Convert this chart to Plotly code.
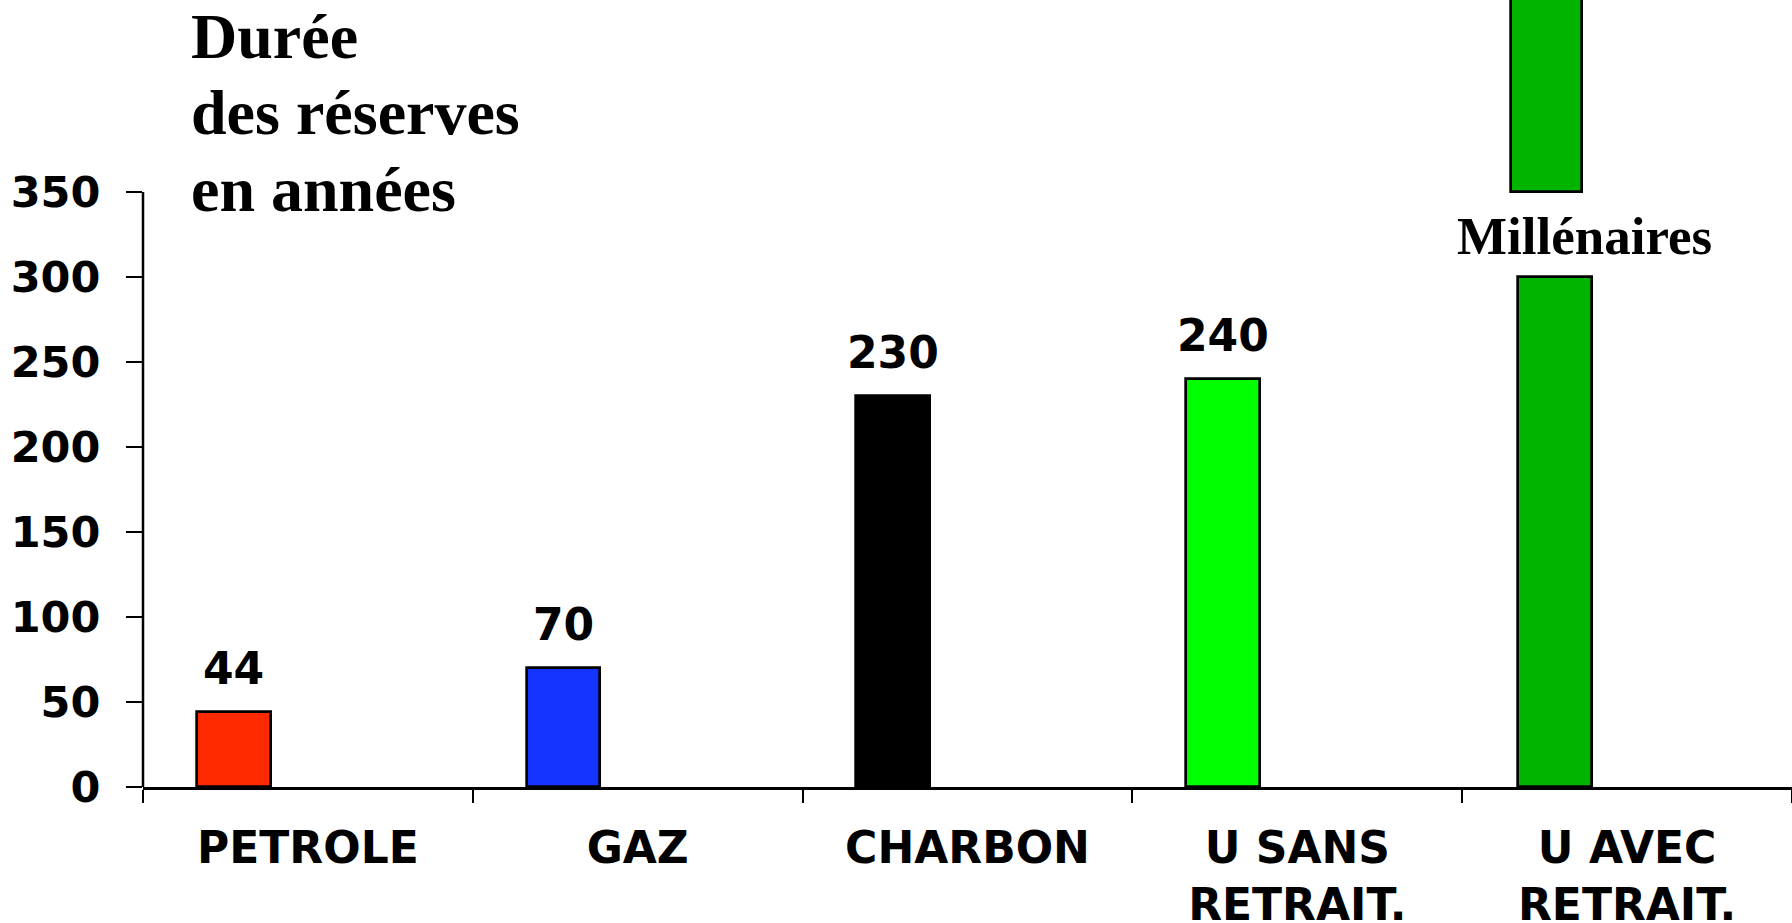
import plotly.graph_objects as go

# ---- data ----
categories = ["PETROLE", "GAZ", "CHARBON", "U SANS<br>RETRAIT.", "U AVEC<br>RETRAIT."]
durations = [44, 70, 230, 240, 300]          # years (last bar broken at 300)
value_labels = ["44", "70", "230", "240", ""]
bar_colors = ["#FF2A00", "#1433FF", "#000000", "#00FF00", "#00B400"]
# upper part of the broken bar ("Millénaires")
upper_base = [350]
upper_height = [150]
upper_color = "#00B400"
y_ticks = [0, 50, 100, 150, 200, 250, 300, 350]
title_lines = ["Durée", "des réserves", "en années"]
broken_label = "Millénaires"

# ---- layout constants ----
W, H = 1792, 923
ML, MB = 143, 136
BAR_W = 0.224
BAR_OFFS = [-0.337, -0.337, -0.337, -0.337, -0.331]
UP_W = 0.216
UP_OFF = -0.352
Y_MAX = 463

sans = "DejaVu Sans"
serif = "Liberation Serif"

fig = go.Figure()
fig.add_trace(go.Bar(
    x=categories, y=durations,
    width=BAR_W, offset=BAR_OFFS,
    marker=dict(color=bar_colors, line=dict(color="black", width=2.7)),
    showlegend=False, hoverinfo="x+y",
))
fig.add_trace(go.Bar(
    x=[categories[-1]], y=upper_height, base=upper_base,
    width=UP_W, offset=UP_OFF,
    marker=dict(color=upper_color, line=dict(color="black", width=2.7)),
    showlegend=False, hoverinfo="skip",
))

annotations = []
for i, (v, lab) in enumerate(zip(durations, value_labels)):
    if lab:
        annotations.append(dict(
            x=i + BAR_OFFS[i] + BAR_W / 2, y=v, xref="x", yref="y",
            text=lab, showarrow=False, yanchor="bottom", yshift=16,
            font=dict(family=sans, size=44, color="black", weight="bold"),
        ))

annotations.append(dict(
    x=len(categories) - 1 - 0.13, y=306, xref="x", yref="y",
    text="<b>" + broken_label + "</b>", showarrow=False, yanchor="bottom",
    font=dict(family=serif, size=53, color="black"),
))

title_bottoms = [74, 150, 227]
for line, pb in zip(title_lines, title_bottoms):
    annotations.append(dict(
        x=(189 - ML) / (W - ML), y=1 - pb / (H - MB), xref="paper", yref="paper",
        text="<b>" + line + "</b>", showarrow=False,
        xanchor="left", yanchor="bottom",
        font=dict(family=serif, size=64, color="black"),
    ))

fig.update_layout(
    width=W, height=H,
    margin=dict(l=ML, r=0, t=0, b=MB, pad=0, autoexpand=False),
    paper_bgcolor="white", plot_bgcolor="white",
    bargap=0,
    annotations=annotations,
    shapes=[dict(type="line", xref="paper", yref="y", x0=0, x1=0,
                 y0=0, y1=max(y_ticks), line=dict(color="black", width=2.5),
                 layer="above")],
)
fig.update_xaxes(
    type="category", range=[-0.5, len(categories) - 0.5], automargin=False,
    showline=True, linecolor="black", linewidth=2.5,
    ticks="outside", tickson="boundaries", ticklen=13, tickwidth=2, tickcolor="black",
    showgrid=False, zeroline=False,
    tickfont=dict(family=sans, size=44, color="black", weight="bold"),
    ticklabelstandoff=20,
)
fig.update_yaxes(
    range=[0, Y_MAX], tickvals=y_ticks, ticktext=[str(t) for t in y_ticks],
    automargin=False,
    showline=False, showgrid=False, zeroline=False,
    ticks="outside", ticklen=16, tickwidth=2, tickcolor="black",
    tickfont=dict(family=sans, size=43, color="black", weight="bold"),
    ticklabelstandoff=17,
)

fig.write_html("out.html")
